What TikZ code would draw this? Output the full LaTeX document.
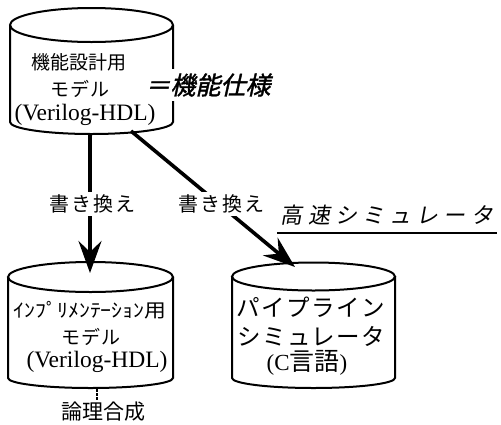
\documentclass[tikz,border=0pt]{standalone}
\usepackage{fontspec}
\usepackage{graphicx}
\setmainfont{Liberation Serif}
\newfontfamily\jp{Noto Sans CJK JP}
\newfontfamily\jpsl[FakeSlant=0.22,FakeBold=1.5]{Noto Sans CJK JP}
\newfontfamily\jplt[FakeSlant=0.18,LetterSpace=24]{Noto Sans CJK JP}
\newfontfamily\jpsp[LetterSpace=10]{Noto Sans CJK JP}
\newfontfamily\jpwide[LetterSpace=6]{Noto Sans CJK JP}
\usetikzlibrary{arrows.meta}
\newcommand\fs[1]{\fontsize{#1}{#1}\selectfont}
\begin{document}
\begin{tikzpicture}[x=1pt,y=-1pt,
  cylline/.style={line width=2pt},
  bigarrow/.style={line width=3.6pt,-{Stealth[length=32pt,width=23pt,inset=11pt]}},
  lbl/.style={inner sep=0pt,align=center},
  wlbl/.style={fill=white,inner sep=3pt}]
\useasboundingbox (0,0) rectangle (501,424);

% top cylinder
\draw[cylline] (10,25) -- (10,122) arc[start angle=180,end angle=360,x radius=81.5pt,y radius=12pt] -- (173,25);
\draw[cylline] (91.5,25) ellipse[x radius=81.5pt,y radius=17pt];
\node[lbl] (t1a) at (79,62) {\jp\fs{19}機能設計用};
\node[lbl] (t1b) at (80,89) {\jpwide\fs{19}モデル};
\node[lbl] (t1c) at (85,115) {\fs{23.5}(Verilog-HDL)};
\node[wlbl,inner sep=4pt] (spec) at (208,85) {\jpsl\fs{25}＝機能仕様};

% bottom-left cylinder
\draw[cylline] (8,277) -- (8,378) arc[start angle=180,end angle=360,x radius=82.5pt,y radius=10pt] -- (173,277);
\draw[cylline] (90.5,277) ellipse[x radius=82.5pt,y radius=15pt];
\node[lbl] (t2a) at (90,310) {\scalebox{1.15}[1]{\jp\fs{19}ｲﾝﾌﾟﾘﾒﾝﾃｰｼｮﾝ用}};
\node[lbl] (t2b) at (91,337) {\jpwide\fs{19}モデル};
\node[lbl] (t2c) at (97,362) {\fs{23.5}(Verilog-HDL)};

% bottom-right cylinder
\draw[cylline] (232,276) -- (232,378) arc[start angle=180,end angle=360,x radius=81.5pt,y radius=10pt] -- (395,276);
\draw[cylline] (313.5,276.5) ellipse[x radius=81.5pt,y radius=14pt];
\node[lbl] (t3a) at (311,307) {\jpwide\fs{23.5}パイプライン};
\node[lbl] (t3b) at (311,336) {\jpwide\fs{23.5}シミュレータ};
\node[lbl] (t3c) at (307,363) {\fs{23}(C{\jp\fs{25}言語})};

% arrows
\coordinate (a1s) at (90,133);
\coordinate (a1e) at (90,273);
\coordinate (a2s) at (131,131);
\coordinate (a2e) at (295,267);
\draw[bigarrow] (a1s) -- (a1e);
\draw[bigarrow] (a2s) -- (a2e);
\node[wlbl] (rw1) at (92,204) {\jpsp\fs{20}書き換え};
\node[wlbl] (rw2) at (221,204) {\jpsp\fs{20}書き換え};

% fast simulator label
\node[lbl] (fast) at (387,215) {\jplt\fs{22}高速シミュレータ};
\coordinate (ul1) at (277,233);
\coordinate (ul2) at (497,233);
\draw[line width=1.5pt] (ul1) -- (ul2);

% synthesis
\coordinate (d1) at (97,389);
\coordinate (d2) at (97,401);
\draw[line width=1.6pt,dash pattern=on 2.5pt off 1.5pt] (d1) -- (d2);
\node[lbl] (syn) at (103,412) {\jp\fs{21}論理合成};
\end{tikzpicture}
\end{document}
